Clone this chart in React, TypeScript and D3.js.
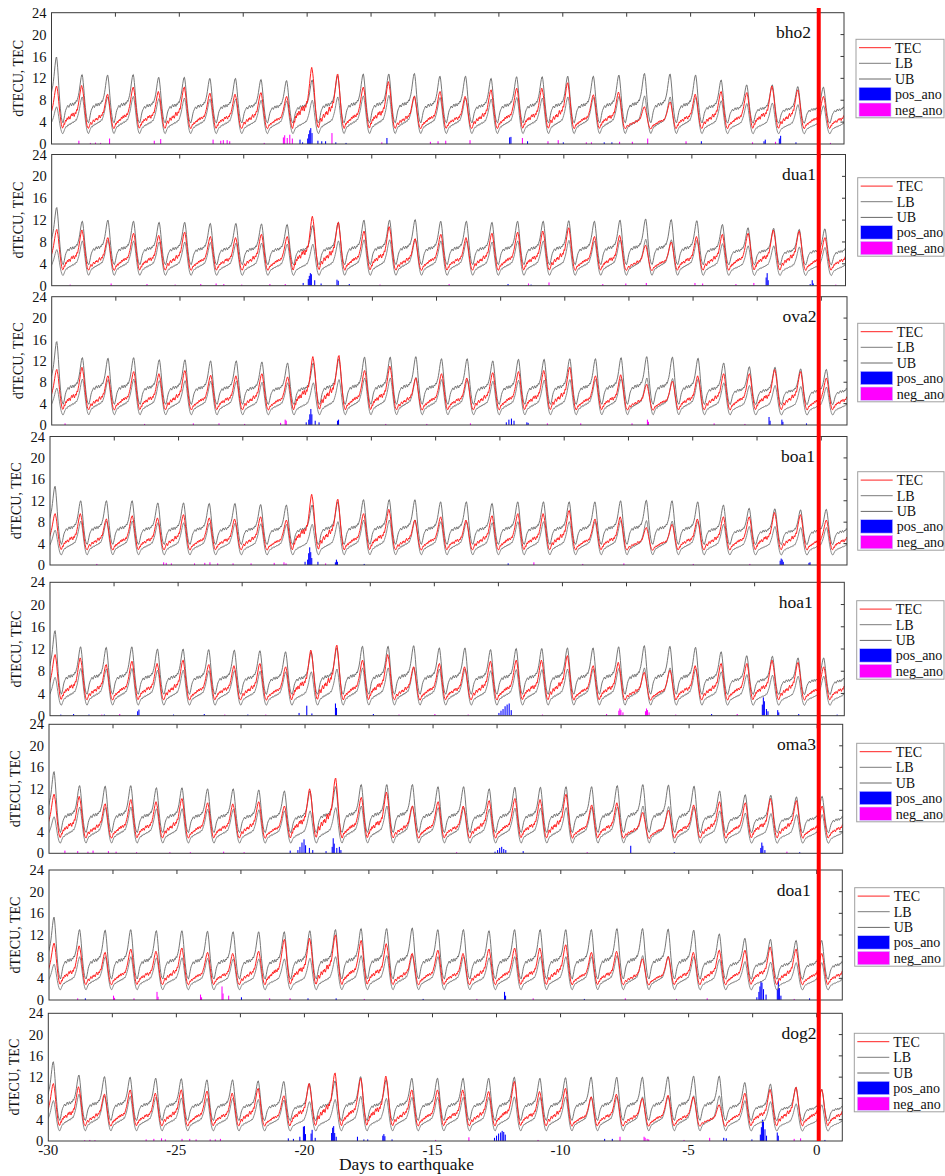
import React from "react";
import * as d3 from "d3";

// station names, top to bottom
const STATIONS = ["bho2", "dua1", "ova2", "boa1", "hoa1", "oma3", "doa1", "dog2"];

// x ticks (days to earthquake)
const X_LABELS = [-30, -25, -20, -15, -10, -5, 0];
const X_MINOR = [-27.5, -25, -22.5, -20, -17.5, -15, -12.5, -10, -7.5, -5, -2.5, 0];
const Y_TICKS = [0, 4, 8, 12, 16, 20, 24];
const LEGEND_ITEMS = ["TEC", "LB", "UB", "pos_ano", "neg_ano"];

// diurnal shapes, half-hourly, one cycle from the post-peak minimum
const TEC_SHAPE_A = [0.03, 0.06, 0.1, 0.15, 0.13, 0.17, 0.2, 0.16, 0.19, 0.23, 0.21, 0.25, 0.22, 0.27, 0.3, 0.26, 0.29, 0.33, 0.28, 0.31, 0.35, 0.32, 0.3, 0.34, 0.38, 0.35, 0.4, 0.44, 0.5, 0.55, 0.62, 0.7, 0.78, 0.86, 0.93, 0.98, 1.0, 0.95, 0.88, 0.78, 0.64, 0.52, 0.4, 0.3, 0.2, 0.12, 0.07, 0.04];
const TEC_SHAPE_B = [0.05, 0.09, 0.14, 0.12, 0.18, 0.22, 0.19, 0.24, 0.27, 0.23, 0.26, 0.3, 0.27, 0.24, 0.29, 0.33, 0.36, 0.31, 0.34, 0.38, 0.34, 0.3, 0.35, 0.39, 0.36, 0.42, 0.46, 0.44, 0.52, 0.58, 0.66, 0.74, 0.83, 0.9, 0.97, 1.0, 0.96, 0.9, 0.82, 0.72, 0.6, 0.48, 0.36, 0.26, 0.17, 0.1, 0.06, 0.04];
const TEC_SHAPE_C = [0.04, 0.08, 0.12, 0.17, 0.21, 0.18, 0.15, 0.2, 0.24, 0.28, 0.25, 0.22, 0.26, 0.31, 0.28, 0.33, 0.3, 0.27, 0.32, 0.37, 0.41, 0.36, 0.33, 0.38, 0.42, 0.39, 0.45, 0.5, 0.48, 0.56, 0.64, 0.72, 0.8, 0.88, 0.95, 0.99, 1.0, 0.93, 0.84, 0.74, 0.62, 0.5, 0.38, 0.28, 0.19, 0.11, 0.07, 0.04];
const UB_SHAPE = [0.03, 0.07, 0.12, 0.18, 0.24, 0.28, 0.31, 0.33, 0.36, 0.38, 0.36, 0.34, 0.37, 0.4, 0.42, 0.39, 0.37, 0.4, 0.43, 0.41, 0.38, 0.41, 0.44, 0.42, 0.45, 0.48, 0.46, 0.5, 0.54, 0.58, 0.64, 0.71, 0.79, 0.87, 0.94, 0.99, 1.0, 0.94, 0.84, 0.72, 0.58, 0.45, 0.34, 0.24, 0.16, 0.1, 0.06, 0.04];
const LB_SHAPE = [0.03, 0.06, 0.1, 0.14, 0.17, 0.2, 0.22, 0.2, 0.23, 0.26, 0.24, 0.27, 0.29, 0.26, 0.28, 0.31, 0.29, 0.32, 0.34, 0.31, 0.33, 0.36, 0.34, 0.37, 0.4, 0.38, 0.42, 0.46, 0.51, 0.56, 0.62, 0.69, 0.77, 0.85, 0.92, 0.97, 1.0, 0.96, 0.88, 0.77, 0.64, 0.51, 0.39, 0.28, 0.19, 0.12, 0.07, 0.04];
const TEC_BASE = 2.6;
const UB_BASE = 3.6;
const LB_BASE = 1.7;

// daily peaks (peak at -29.8, -28.8, ... 0.2, 1.2)
const TEC_BHO2 = [10.6, 10.7, 9.1, 10.4, 9.6, 10.4, 9.3, 9.1, 9.4, 8.7, 14.0, 12.8, 10.4, 11.4, 8.7, 9.6, 8.7, 9.9, 10.2, 10.2, 11.2, 9.0, 9.5, 6.8, 7.7, 9.1, 9.6, 9.4, 10.6, 9.9, 8.7, 8.2];
const UB_BHO2 = [15.9, 12.7, 12.6, 12.7, 12.2, 12.2, 12.0, 12.0, 11.8, 11.6, 11.7, 12.5, 12.8, 12.8, 12.9, 12.4, 12.4, 12.0, 12.3, 12.3, 12.4, 12.4, 12.6, 12.9, 12.8, 12.6, 11.7, 10.8, 10.8, 10.5, 10.4, 10.2];
const LB_BHO2 = [6.8, 8.6, 8.6, 8.7, 8.3, 8.4, 8.2, 8.2, 8.0, 7.9, 8.0, 8.6, 8.8, 8.9, 8.8, 8.5, 8.4, 8.2, 8.5, 8.4, 8.6, 8.5, 8.7, 8.8, 8.6, 8.5, 7.9, 7.4, 7.5, 7.2, 7.0, 6.9];

const TEC_DUA1 = [10.3, 10.2, 8.8, 9.6, 9.2, 9.8, 9.0, 8.8, 9.4, 9.0, 12.7, 11.6, 10.0, 10.8, 8.6, 9.4, 8.8, 9.6, 9.8, 10.0, 10.6, 9.0, 9.2, 7.4, 8.0, 9.0, 9.4, 9.6, 10.2, 10.0, 8.8, 8.5];
const UB_DUA1 = [14.3, 11.8, 12.0, 11.8, 11.6, 11.6, 11.4, 11.4, 11.3, 11.2, 11.0, 11.6, 12.0, 12.0, 12.1, 11.8, 11.8, 11.6, 11.8, 11.8, 11.9, 11.8, 12.0, 12.2, 12.1, 11.9, 11.2, 10.6, 10.5, 10.3, 10.4, 10.2];
const LB_DUA1 = [6.6, 8.2, 8.3, 8.2, 8.0, 8.0, 7.9, 7.8, 7.8, 7.6, 7.6, 8.2, 8.4, 8.4, 8.5, 8.2, 8.2, 8.0, 8.2, 8.2, 8.3, 8.2, 8.4, 8.5, 8.4, 8.3, 7.7, 7.3, 7.3, 7.1, 7.0, 6.9];

const TEC_OVA2 = [10.4, 10.8, 9.2, 10.0, 9.6, 10.2, 9.3, 9.2, 9.6, 9.0, 12.8, 13.0, 10.2, 11.0, 8.8, 9.6, 8.8, 9.8, 10.0, 10.2, 10.8, 9.2, 9.4, 7.6, 8.2, 9.2, 9.6, 9.6, 10.4, 10.0, 8.8, 8.4];
const UB_OVA2 = [15.6, 12.6, 12.5, 12.6, 12.2, 12.2, 12.0, 12.0, 11.8, 11.6, 11.6, 12.4, 12.7, 12.7, 12.8, 12.4, 12.4, 12.0, 12.3, 12.3, 12.4, 12.4, 12.6, 12.8, 12.7, 12.5, 11.6, 10.9, 10.8, 10.5, 10.4, 10.3];
const LB_OVA2 = [6.9, 8.6, 8.5, 8.6, 8.3, 8.3, 8.2, 8.2, 8.0, 7.9, 7.9, 8.5, 8.8, 8.8, 8.9, 8.5, 8.5, 8.2, 8.4, 8.4, 8.5, 8.5, 8.7, 8.8, 8.7, 8.6, 7.9, 7.4, 7.4, 7.2, 7.1, 7.0];

const TEC_BOA1 = [9.6, 9.6, 8.6, 9.2, 8.8, 9.4, 8.8, 8.6, 9.0, 8.4, 13.2, 12.3, 9.6, 10.4, 8.4, 9.0, 8.4, 9.2, 9.6, 9.6, 10.2, 8.6, 9.0, 7.0, 7.6, 8.6, 9.0, 9.0, 9.8, 9.4, 8.4, 8.2];
const UB_BOA1 = [14.7, 12.0, 12.0, 12.0, 11.6, 11.6, 11.5, 11.5, 11.3, 11.2, 11.2, 11.8, 12.2, 12.2, 12.2, 11.8, 11.8, 11.5, 11.8, 11.8, 11.8, 11.8, 12.0, 12.1, 12.0, 11.8, 11.2, 10.6, 10.5, 10.3, 10.4, 10.2];
const LB_BOA1 = [6.5, 8.2, 8.2, 8.2, 7.9, 7.9, 7.8, 7.8, 7.7, 7.6, 7.6, 8.1, 8.4, 8.4, 8.4, 8.1, 8.1, 7.9, 8.1, 8.1, 8.1, 8.1, 8.3, 8.3, 8.2, 8.1, 7.6, 7.2, 7.2, 7.0, 7.0, 6.9];

const TEC_HOA1 = [11.0, 10.4, 9.2, 9.8, 9.4, 10.0, 9.2, 9.0, 9.4, 8.8, 11.8, 12.7, 10.0, 11.0, 8.8, 9.4, 8.8, 9.8, 10.0, 10.0, 10.8, 9.0, 9.6, 7.8, 8.2, 9.0, 9.4, 9.4, 10.0, 9.6, 8.8, 8.5];
const UB_HOA1 = [15.3, 12.4, 12.3, 12.4, 12.0, 12.0, 11.9, 11.8, 11.7, 11.5, 11.5, 12.2, 12.5, 12.5, 12.6, 12.2, 12.2, 11.9, 12.1, 12.1, 12.2, 12.2, 12.4, 12.6, 12.5, 12.3, 11.5, 10.8, 10.7, 10.4, 10.4, 10.2];
const LB_HOA1 = [6.9, 8.5, 8.4, 8.5, 8.2, 8.2, 8.1, 8.1, 8.0, 7.9, 7.9, 8.4, 8.6, 8.6, 8.7, 8.4, 8.4, 8.1, 8.3, 8.3, 8.4, 8.4, 8.5, 8.6, 8.6, 8.4, 7.9, 7.4, 7.3, 7.1, 7.1, 7.0];

const TEC_OMA3 = [11.0, 10.6, 9.2, 10.0, 9.6, 10.2, 9.4, 9.2, 9.6, 8.8, 12.0, 14.0, 10.4, 11.4, 8.8, 9.6, 8.8, 9.8, 10.2, 10.0, 11.0, 9.0, 9.4, 7.6, 8.0, 9.0, 9.6, 9.4, 10.2, 9.8, 8.8, 8.5];
const UB_OMA3 = [15.2, 12.6, 12.5, 12.6, 12.2, 12.2, 12.0, 12.0, 11.8, 11.6, 11.6, 12.4, 12.8, 12.8, 12.8, 12.4, 12.4, 12.0, 12.3, 12.3, 12.4, 12.4, 12.6, 12.8, 12.7, 12.5, 11.6, 10.9, 10.8, 10.5, 10.6, 10.3];
const LB_OMA3 = [6.8, 8.6, 8.5, 8.6, 8.3, 8.3, 8.2, 8.2, 8.1, 7.9, 7.9, 8.5, 8.8, 8.8, 8.8, 8.5, 8.5, 8.2, 8.4, 8.4, 8.5, 8.5, 8.6, 8.8, 8.7, 8.6, 7.9, 7.5, 7.4, 7.2, 7.2, 7.0];

const TEC_DOA1 = [10.5, 10.0, 8.8, 9.4, 9.0, 9.6, 8.8, 8.6, 9.0, 11.2, 11.4, 12.0, 11.0, 10.4, 8.6, 9.2, 8.6, 9.4, 9.6, 9.6, 10.2, 8.8, 9.0, 7.6, 8.0, 8.8, 9.2, 9.2, 9.8, 9.4, 8.6, 8.4];
const UB_DOA1 = [15.3, 13.0, 12.9, 13.0, 12.8, 12.8, 12.7, 12.6, 12.6, 12.6, 12.8, 13.0, 13.2, 13.2, 13.3, 13.0, 13.0, 12.8, 13.0, 13.0, 13.0, 13.0, 13.2, 13.2, 13.1, 12.9, 12.2, 11.4, 11.2, 11.0, 11.0, 10.8];
const LB_DOA1 = [6.6, 8.0, 8.0, 8.0, 7.8, 7.8, 7.7, 7.6, 7.6, 7.6, 7.7, 8.0, 8.2, 8.2, 8.3, 8.0, 8.0, 7.8, 8.0, 8.0, 8.0, 8.0, 8.2, 8.2, 8.1, 8.0, 7.5, 7.1, 7.0, 6.9, 6.9, 6.8];

const TEC_DOG2 = [10.8, 10.2, 8.8, 9.6, 9.0, 9.6, 9.4, 9.0, 9.9, 8.5, 10.8, 12.8, 11.8, 12.2, 9.6, 9.6, 9.6, 9.3, 11.2, 9.3, 9.9, 8.3, 8.8, 8.0, 8.6, 8.3, 6.8, 9.0, 9.7, 10.1, 9.7, 9.0];
const UB_DOG2 = [14.9, 12.4, 12.1, 12.0, 11.8, 11.7, 11.5, 11.5, 11.3, 11.2, 10.8, 11.3, 12.1, 11.5, 11.8, 11.8, 11.8, 11.8, 12.0, 11.8, 11.9, 12.0, 12.0, 12.0, 12.1, 12.2, 12.2, 11.0, 10.7, 10.1, 9.7, 9.6];
const LB_DOG2 = [7.6, 8.8, 8.5, 8.4, 8.2, 8.1, 8.0, 8.0, 7.8, 7.7, 7.4, 7.8, 8.4, 8.0, 8.2, 8.2, 8.2, 8.2, 8.3, 8.2, 8.3, 8.3, 8.3, 8.3, 8.4, 8.5, 8.5, 7.6, 7.4, 7.0, 6.8, 6.7];

// anomalies: [day, dTECU]
const POS_BHO2 = [[-20.3, 0.8], [-20.2, 0.3], [-20.0, 1.0], [-19.96, 1.8], [-19.92, 2.5], [-19.88, 2.9], [-19.83, 2.0], [-19.6, 0.6], [-19.45, 0.5], [-19.3, 0.5], [-18.9, 0.3], [-18.5, 0.2], [-16.9, 1.1], [-12.1, 1.2], [-12.05, 1.3], [-11.4, 0.5], [-10.0, 0.3], [-8.4, 0.3], [-8.1, 0.3], [-4.6, 0.5], [-2.15, 0.5], [-2.1, 0.8], [-1.55, 1.0], [-1.5, 1.5], [-0.9, 0.3]];
const NEG_BHO2 = [[-28.95, 0.6], [-28.5, 0.2], [-28.3, 0.25], [-28.1, 0.2], [-27.75, 1.0], [-26.0, 0.6], [-25.75, 0.9], [-23.7, 0.8], [-23.4, 0.6], [-23.3, 0.7], [-23.15, 0.7], [-23.05, 0.5], [-21.7, 0.2], [-20.95, 1.2], [-20.9, 1.6], [-20.8, 1.1], [-20.7, 1.7], [-20.6, 1.0], [-19.05, 2.0], [-17.1, 0.3], [-15.2, 0.4], [-14.9, 0.5], [-14.6, 0.6], [-13.65, 0.7], [-11.6, 1.1], [-10.6, 0.5], [-10.2, 0.7], [-9.1, 0.3], [-8.9, 0.3], [-7.8, 0.4], [-7.3, 0.4], [-6.7, 1.0], [-5.2, 0.5], [-2.6, 0.3], [-1.7, 0.4], [0.45, 0.2]];

const POS_DUA1 = [[-20.2, 0.5], [-20.0, 1.2], [-19.96, 1.8], [-19.92, 2.3], [-19.88, 2.1], [-19.75, 1.0], [-19.5, 0.4], [-18.88, 1.1], [-18.83, 0.9], [-18.4, 0.3], [-12.2, 0.3], [-11.3, 0.2], [-2.12, 1.5], [-2.08, 2.3], [-2.04, 1.0], [-0.4, 0.3], [-0.32, 1.0], [-0.28, 0.4]];
const NEG_DUA1 = [[-29.3, 0.2], [-27.7, 0.4], [-26.3, 0.3], [-25.2, 0.2], [-24.2, 0.3], [-23.6, 0.4], [-23.3, 0.3], [-22.6, 0.2], [-21.5, 0.3], [-20.9, 0.3], [-17.2, 0.2], [-14.5, 0.3], [-11.4, 0.4], [-10.6, 0.6], [-8.5, 0.3], [-7.6, 0.4], [-6.8, 0.5], [-4.9, 0.5], [-4.6, 0.4], [-3.3, 0.3], [-2.6, 0.5], [0.6, 0.2]];

const POS_OVA2 = [[-20.1, 0.5], [-20.0, 1.0], [-19.96, 2.0], [-19.92, 3.0], [-19.88, 2.0], [-19.75, 0.8], [-19.6, 0.5], [-18.88, 0.8], [-18.84, 1.0], [-12.3, 0.5], [-12.2, 1.0], [-12.1, 1.2], [-12.0, 0.8], [-11.5, 0.5], [-11.45, 0.4], [-2.06, 1.5], [-2.02, 0.8], [-1.56, 1.0], [-1.52, 0.6], [-0.6, 0.3]];
const NEG_OVA2 = [[-29.5, 0.3], [-26.4, 0.2], [-24.5, 0.3], [-23.5, 0.3], [-22.5, 0.2], [-21.1, 0.4], [-20.92, 1.0], [-20.88, 0.8], [-17.0, 0.2], [-15.4, 0.2], [-13.7, 0.3], [-10.7, 0.3], [-9.4, 0.3], [-7.4, 0.3], [-6.8, 1.0], [-6.76, 0.6], [-4.2, 0.3], [-3.0, 0.2]];

const POS_BOA1 = [[-20.1, 0.6], [-20.0, 1.0], [-19.96, 2.2], [-19.92, 3.3], [-19.88, 2.4], [-19.84, 1.3], [-19.6, 0.6], [-18.92, 0.5], [-18.88, 1.0], [-18.84, 0.6], [-17.8, 0.2], [-12.2, 0.3], [-1.62, 0.8], [-1.58, 1.2], [-1.54, 1.0], [-1.5, 0.6], [-0.5, 0.4], [-0.46, 0.5]];
const NEG_BOA1 = [[-28.2, 0.2], [-25.6, 0.5], [-25.5, 0.4], [-25.3, 0.3], [-24.4, 0.3], [-24.0, 0.4], [-23.8, 0.5], [-23.5, 0.3], [-22.9, 0.3], [-22.2, 0.3], [-21.3, 0.4], [-20.92, 0.5], [-20.84, 0.3], [-19.3, 0.3], [-11.2, 0.5], [-9.3, 0.2], [-7.7, 0.3], [-5.0, 0.2], [-2.8, 0.2]];

const POS_HOA1 = [[-29.6, 0.2], [-29.1, 0.3], [-28.5, 0.2], [-27.9, 0.2], [-26.6, 0.8], [-26.55, 1.1], [-25.2, 0.2], [-24.0, 0.3], [-22.3, 0.2], [-20.3, 0.5], [-20.0, 1.8], [-19.8, 0.4], [-18.88, 2.2], [-18.84, 1.4], [-17.4, 0.3], [-12.5, 0.5], [-12.42, 0.9], [-12.34, 1.2], [-12.26, 1.7], [-12.18, 2.0], [-12.1, 2.2], [-12.02, 1.0], [-4.2, 0.3], [-2.22, 2.0], [-2.18, 3.3], [-2.14, 2.6], [-2.06, 1.2], [-2.0, 0.8], [-1.62, 1.0], [-1.58, 0.6], [-0.8, 0.3], [0.7, 0.2]];
const NEG_HOA1 = [[-28.0, 0.2], [-27.3, 0.3], [-23.2, 0.2], [-21.6, 0.2], [-16.4, 0.2], [-15.0, 0.3], [-13.7, 0.2], [-10.8, 0.2], [-8.3, 0.3], [-7.82, 0.9], [-7.78, 1.3], [-7.74, 1.0], [-7.66, 0.6], [-6.78, 0.8], [-6.74, 1.3], [-6.7, 1.0], [-6.64, 0.6], [-5.6, 0.2], [-3.2, 0.3]];

const POS_OMA3 = [[-20.6, 0.5], [-20.3, 0.6], [-20.22, 1.2], [-20.14, 2.0], [-20.06, 2.6], [-20.0, 1.5], [-19.85, 1.0], [-19.72, 0.6], [-19.2, 0.4], [-18.96, 1.2], [-18.92, 2.8], [-18.88, 1.8], [-18.78, 1.0], [-18.68, 1.2], [-18.62, 0.6], [-12.6, 0.3], [-12.5, 0.6], [-12.42, 1.0], [-12.34, 1.2], [-12.26, 0.8], [-12.18, 0.6], [-11.5, 0.4], [-7.3, 1.4], [-5.6, 0.2], [-2.22, 1.0], [-2.18, 2.0], [-2.14, 1.4], [-2.06, 0.6], [-0.7, 0.2]];
const NEG_OMA3 = [[-29.4, 0.5], [-28.9, 0.4], [-28.5, 0.3], [-28.3, 0.5], [-27.7, 0.4], [-27.4, 0.3], [-26.6, 0.2], [-25.3, 0.2], [-24.5, 0.2], [-23.2, 0.3], [-22.4, 0.2], [-14.1, 0.2], [-9.0, 0.2], [-1.2, 0.3]];

const POS_DOA1 = [[-28.6, 0.3], [-22.5, 0.5], [-19.9, 0.3], [-18.8, 0.3], [-15.4, 0.2], [-12.22, 1.5], [-12.18, 0.8], [-9.1, 0.2], [-2.36, 0.5], [-2.28, 1.5], [-2.24, 2.5], [-2.2, 3.5], [-2.16, 3.2], [-2.1, 2.0], [-2.0, 1.0], [-1.56, 2.0], [-1.52, 3.5], [-1.48, 2.2], [-1.42, 0.8], [-0.3, 0.3]];
const NEG_DOA1 = [[-28.9, 0.3], [-27.5, 0.8], [-27.46, 0.4], [-26.7, 0.3], [-25.8, 1.5], [-25.76, 0.6], [-24.1, 1.0], [-24.06, 0.5], [-23.26, 2.5], [-23.22, 1.2], [-23.0, 0.8], [-21.4, 0.3], [-20.6, 0.3], [-17.7, 0.2], [-13.3, 0.2], [-11.1, 0.3], [-7.5, 0.3], [-5.5, 0.2], [-4.3, 0.3], [-0.9, 0.2]];

const POS_DOG2 = [[-20.65, 0.5], [-20.45, 0.4], [-20.2, 0.8], [-20.06, 2.7], [-20.02, 2.8], [-19.98, 1.3], [-19.76, 1.4], [-19.72, 2.1], [-19.6, 0.6], [-18.96, 1.5], [-18.92, 2.5], [-18.88, 2.8], [-18.84, 1.5], [-18.78, 0.8], [-17.95, 0.8], [-17.7, 0.3], [-17.55, 0.3], [-16.96, 1.0], [-16.92, 1.3], [-16.88, 0.9], [-16.6, 0.3], [-12.6, 0.6], [-12.52, 1.0], [-12.44, 1.4], [-12.36, 1.6], [-12.3, 1.9], [-12.24, 1.7], [-12.18, 1.2], [-8.3, 0.4], [-8.0, 0.4], [-3.65, 0.6], [-3.55, 0.5], [-2.55, 0.3], [-2.22, 1.2], [-2.18, 2.6], [-2.14, 4.0], [-2.1, 3.6], [-2.04, 2.2], [-1.98, 1.0], [-1.56, 1.6], [-1.52, 1.0], [0.3, 0.2]];
const NEG_DOG2 = [[-28.6, 0.15], [-28.4, 0.2], [-28.2, 0.15], [-26.2, 0.3], [-25.9, 0.4], [-25.6, 0.5], [-25.45, 0.3], [-24.8, 0.4], [-24.5, 0.4], [-24.25, 0.3], [-23.7, 0.3], [-23.5, 0.3], [-23.3, 0.4], [-14.9, 0.2], [-13.6, 0.7], [-10.9, 0.2], [-7.7, 0.8], [-6.76, 0.8], [-6.72, 0.6], [-6.64, 0.4], [-6.58, 0.3], [-5.2, 0.2], [-4.2, 0.6], [-0.9, 0.4], [-0.65, 0.5]];

const TEC_PEAKS = [TEC_BHO2, TEC_DUA1, TEC_OVA2, TEC_BOA1, TEC_HOA1, TEC_OMA3, TEC_DOA1, TEC_DOG2];
const UB_PEAKS = [UB_BHO2, UB_DUA1, UB_OVA2, UB_BOA1, UB_HOA1, UB_OMA3, UB_DOA1, UB_DOG2];
const LB_PEAKS = [LB_BHO2, LB_DUA1, LB_OVA2, LB_BOA1, LB_HOA1, LB_OMA3, LB_DOA1, LB_DOG2];
const POS_ANO = [POS_BHO2, POS_DUA1, POS_OVA2, POS_BOA1, POS_HOA1, POS_OMA3, POS_DOA1, POS_DOG2];
const NEG_ANO = [NEG_BHO2, NEG_DUA1, NEG_OVA2, NEG_BOA1, NEG_HOA1, NEG_OMA3, NEG_DOA1, NEG_DOG2];

// layout of the eight panels (pixels) - the figure is a stack of separate plots
const PANEL_L = [51.5, 51.7, 51.7, 50, 50, 49, 49, 48.3];
const PANEL_R = [844, 845.5, 847, 847, 844.3, 842.7, 842.3, 842.3];
const PANEL_T = [12.7, 154.5, 296.7, 436.5, 582.3, 724.3, 870, 1013.3];
const PANEL_B = [144, 285.7, 425, 565, 715.7, 853.3, 1000, 1141];
const LEG_X = [856, 857.7, 857.7, 857.7, 856.7, 856.7, 854.7, 854.3];
const LEG_Y = [39.3, 177.7, 323.3, 471.7, 600.7, 743.3, 887.7, 1033.3];
const LABEL_X = [811, 816, 816.5, 815, 812.7, 816, 810.7, 816.5];

const FONT = "Liberation Serif, Times New Roman, serif";
const EQ_DAY = 0.08;
const TEC_SHAPES = [TEC_SHAPE_A, TEC_SHAPE_B, TEC_SHAPE_C];

function series(peaks: number[], shapes: number[][], base: number) {
  const pts: [number, number][] = [];
  peaks.forEach((pk, k) => {
    const shape = shapes[k % shapes.length];
    shape.forEach((s, i) => {
      const t = -30 + k - 0.55 + i / shape.length;
      pts.push([t, base + s * (pk - base)]);
    });
  });
  return pts;
}

function Panel({ idx }: { idx: number }) {
  const L = PANEL_L[idx], R = PANEL_R[idx], T = PANEL_T[idx], B = PANEL_B[idx];
  const x = d3.scaleLinear().domain([-30, 1]).range([L, R]);
  const y = d3.scaleLinear().domain([0, 24]).range([B, T]);
  const line = d3.line<[number, number]>().x(d => x(d[0])).y(d => y(d[1]));
  const tec = series(TEC_PEAKS[idx], TEC_SHAPES, TEC_BASE);
  const ub = series(UB_PEAKS[idx], [UB_SHAPE], UB_BASE);
  const lb = series(LB_PEAKS[idx], [LB_SHAPE], LB_BASE);
  const clipId = "clip" + idx;
  const barW = (d: number) => Math.max(1, x(d + 1 / 24) - x(d));
  const legX = LEG_X[idx], legY = LEG_Y[idx];
  const rowY = [8.4, 24, 39.7];

  return (
    <g>
      <defs>
        <clipPath id={clipId}>
          <rect x={L} y={T} width={R - L} height={B - T} />
        </clipPath>
      </defs>
      <g clipPath={`url(#${clipId})`}>
        {POS_ANO[idx].map((d, i) => (
          <rect key={"p" + i} x={x(d[0])} y={y(d[1])} width={barW(d[0])} height={y(0) - y(d[1])} fill="#0000ff" />
        ))}
        {NEG_ANO[idx].map((d, i) => (
          <rect key={"n" + i} x={x(d[0])} y={y(d[1])} width={barW(d[0])} height={y(0) - y(d[1])} fill="#ff00ff" />
        ))}
        <path d={line(lb) || ""} fill="none" stroke="#7c7c7c" strokeWidth={0.9} />
        <path d={line(ub) || ""} fill="none" stroke="#686868" strokeWidth={0.9} />
        <path d={line(tec) || ""} fill="none" stroke="#ff2020" strokeWidth={1} />
      </g>
      <rect x={L} y={T} width={R - L} height={B - T} fill="none" stroke="#3a3a3a" strokeWidth={1} />
      {X_MINOR.map(t => (
        <line key={"xt" + t} x1={x(t)} x2={x(t)} y1={T} y2={T + 4} stroke="#3a3a3a" />
      ))}
      {Y_TICKS.slice(1, -1).map(t => (
        <line key={"yr" + t} x1={R - 3.5} x2={R} y1={y(t)} y2={y(t)} stroke="#3a3a3a" />
      ))}
      {Y_TICKS.map(t => (
        <text key={"yl" + t} x={L - 5} y={y(t)} dy="0.35em" textAnchor="end" fontFamily={FONT} fontSize={14.5} fill="#111">
          {t}
        </text>
      ))}
      <text
        transform={`translate(${L - 29},${(T + B) / 2}) rotate(-90)`}
        textAnchor="middle"
        fontFamily={FONT}
        fontSize={14}
        fill="#111"
      >
        dTECU, TEC
      </text>
      <text x={LABEL_X[idx]} y={T + 25.5} textAnchor="end" fontFamily={FONT} fontSize={17.5} fill="#111">
        {STATIONS[idx]}
      </text>
      {idx === STATIONS.length - 1 &&
        X_LABELS.map(t => (
          <text key={"xl" + t} x={x(t)} y={B + 14} textAnchor="middle" fontFamily={FONT} fontSize={15} fill="#111">
            {t}
          </text>
        ))}
      <g>
        <rect x={legX} y={legY} width={944 - legX} height={78.5} fill="#fff" stroke="#a0a0a0" strokeWidth={1} />
        {LEGEND_ITEMS.map((name, i) => {
          const cy = i < 3 ? legY + rowY[i] : legY + 54.7 + (i - 3) * 15.7;
          const color = i === 0 ? "#ff2020" : i === 1 ? "#7c7c7c" : i === 2 ? "#686868" : i === 3 ? "#0000ff" : "#ff00ff";
          return (
            <g key={name}>
              {i < 3 ? (
                <line x1={legX + 3} x2={legX + 35} y1={cy} y2={cy} stroke={color} strokeWidth={1} />
              ) : (
                <rect x={legX + 3} y={cy - 6.7} width={32} height={13.4} fill={color} stroke="#c8c8ff" strokeWidth={0.6} />
              )}
              <text x={legX + 39} y={cy} dy="0.35em" fontFamily={FONT} fontSize={14} fill="#111">
                {name}
              </text>
            </g>
          );
        })}
      </g>
    </g>
  );
}

export default function App() {
  const last = STATIONS.length - 1;
  const xEq = d3.scaleLinear().domain([-30, 1]).range([PANEL_L[last], PANEL_R[last]]);
  return (
    <svg width={945} height={1176} style={{ display: "block", position: "absolute", left: 0, top: 0, background: "#fff" }}>
      {STATIONS.map((s, i) => (
        <Panel key={s} idx={i} />
      ))}
      <line x1={xEq(EQ_DAY)} x2={xEq(EQ_DAY)} y1={8} y2={PANEL_B[last]} stroke="#ff0000" strokeWidth={4} />
      <text x={406.5} y={1169.5} textAnchor="middle" fontFamily={FONT} fontSize={17.5} fill="#111">
        Days to earthquake
      </text>
    </svg>
  );
}
